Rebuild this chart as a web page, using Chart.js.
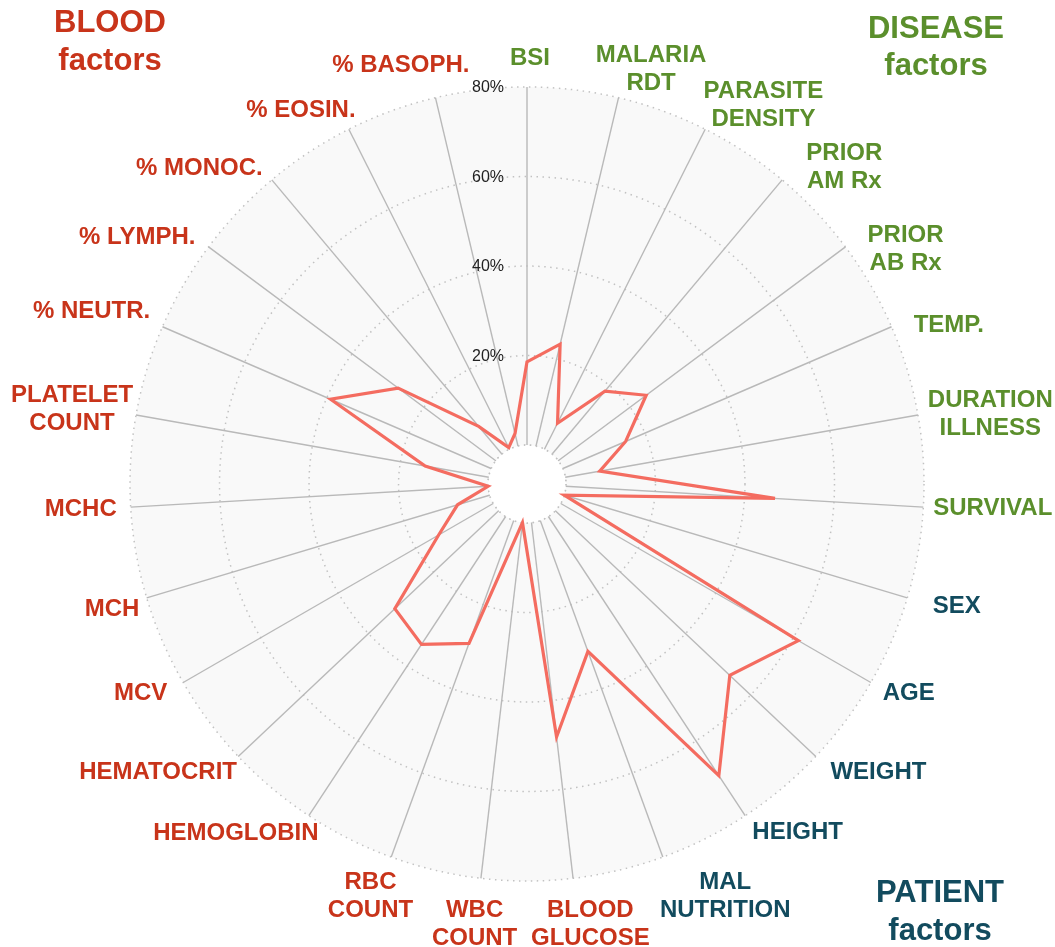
<!DOCTYPE html>
<html><head><meta charset="utf-8">
<script src="https://cdn.jsdelivr.net/npm/chart.js@4.4.1/dist/chart.umd.min.js"></script>
<style>html,body{margin:0;padding:0;background:#fff;}#wrap{position:relative;width:1055px;height:947px;}</style>
</head><body><div id="wrap"><canvas id="c" width="1055" height="947"></canvas></div>
<script>
// ---- data ----
const categories = [
  ['BSI'], ['MALARIA','RDT'], ['PARASITE','DENSITY'], ['PRIOR','AM Rx'], ['PRIOR','AB Rx'],
  ['TEMP.'], ['DURATION','ILLNESS'], ['SURVIVAL'],
  ['SEX'], ['AGE'], ['WEIGHT'], ['HEIGHT'], ['MAL','NUTRITION'],
  ['BLOOD','GLUCOSE'], ['WBC','COUNT'], ['RBC','COUNT'], ['HEMOGLOBIN'], ['HEMATOCRIT'],
  ['MCV'], ['MCH'], ['MCHC'], ['PLATELET','COUNT'], ['% NEUTR.'], ['% LYMPH.'],
  ['% MONOC.'], ['% EOSIN.'], ['% BASOPH.']
];
const groups = [
  'disease','disease','disease','disease','disease','disease','disease','disease',
  'patient','patient','patient','patient','patient',
  'blood','blood','blood','blood','blood','blood','blood','blood','blood','blood','blood','blood','blood','blood'
];
const values = [
  18.6, 23.4, 6.5, 18.4, 24.5, 15.3, 7.8, 46.8,
  0, 61.3, 53.6, 69.3, 31.1,
  48.2, 0, 29.2, 34.2, 31.9, 14.1, 7.5, 0, 14.4, 39.1, 27.2, 8.1, 0.4, 2.9
];
const gridValues = [0, 20, 40, 60, 80];
const tickValues = [20, 40, 60, 80];
const tickLabels = ['20%', '40%', '60%', '80%'];
const groupTitles = { blood: ['BLOOD','factors'], disease: ['DISEASE','factors'], patient: ['PATIENT','factors'] };

// ---- styles ----
const groupColors = { disease: '#5b8f2c', patient: '#124b5e', blood: '#c8341a' };
// small per-label offsets (px) from the automatic outside-the-ring placement
const labelNudges = [
  [3,-3],[17,11],[26,12],[30,18],[20,26],[14,9],[-1,6],[-2,0],
  [15,1],[5,-2],[19,-2],[21,-5],[36,2],
  [9,6],[0,6],[-2,2],[-21,-4],[-14,-2],[-9,-2],[3,4],[-2,1],[8,1],[-6,-5],
  [-15,6],[-24,8],[-18,4],[-16,-7]
];
const FONT = '"Liberation Sans", Arial, Helvetica, sans-serif';

const decor = {
  id: 'decor',
  beforeDatasetsDraw(chart) {
    const s = chart.scales.r, ctx = chart.ctx;
    const r0 = s.getDistanceFromCenterForValue(0);
    ctx.save();
    ctx.beginPath();
    ctx.arc(s.xCenter, s.yCenter, r0, 0, Math.PI * 2);
    ctx.fillStyle = '#ffffff';
    ctx.fill();
    ctx.setLineDash([1.5, 4.5]);
    ctx.strokeStyle = '#c2c2c2';
    ctx.lineWidth = 1.5;
    ctx.stroke();
    ctx.setLineDash([]);
    ctx.font = '16px ' + FONT;
    ctx.fillStyle = '#222222';
    ctx.textAlign = 'right';
    ctx.textBaseline = 'middle';
    tickValues.forEach((v, k) => {
      ctx.fillText(tickLabels[k], s.xCenter - 23, s.yCenter - s.getDistanceFromCenterForValue(v) + 1);
    });
    ctx.restore();
  },
  afterDraw(chart) {
    const s = chart.scales.r, ctx = chart.ctx;
    ctx.save();
    ctx.textAlign = 'center';
    ctx.textBaseline = 'middle';
    ctx.font = 'bold 24px ' + FONT;
    const lh = 28;
    const R = s.drawingArea + 12;
    categories.forEach((lines, i) => {
      const th = s.getIndexAngle(i);
      const p = s.getPointPosition(i, R);
      const w = Math.max(...lines.map(t => ctx.measureText(t).width));
      const h = lines.length * lh;
      const cx = p.x + Math.sin(th) * w / 2 + labelNudges[i][0];
      const cy = p.y - Math.cos(th) * h / 2 + labelNudges[i][1];
      ctx.fillStyle = groupColors[groups[i]];
      lines.forEach((t, j) => ctx.fillText(t, cx, cy - h / 2 + lh * (j + 0.5)));
    });
    // group titles
    ctx.font = 'bold 31px ' + FONT;
    ctx.textBaseline = 'alphabetic';
    const tpos = { blood: [110, 32, 70], disease: [936, 38, 75], patient: [940, 902, 940] };
    Object.keys(groupTitles).forEach(g => {
      ctx.fillStyle = groupColors[g];
      const [x, y1, y2] = tpos[g];
      ctx.fillText(groupTitles[g][0], x, y1);
      ctx.fillText(groupTitles[g][1], x, y2);
    });
    ctx.restore();
  }
};

new Chart(document.getElementById('c'), {
  type: 'radar',
  data: {
    labels: categories,
    datasets: [{
      data: values,
      borderColor: '#f46c60',
      borderWidth: 3.2,
      fill: false,
      pointRadius: 0,
      pointHoverRadius: 0,
      tension: 0
    }]
  },
  options: {
    responsive: false,
    animation: false,
    layout: { padding: { left: 130, right: 131, top: 87, bottom: 66 } },
    plugins: { legend: { display: false }, tooltip: { enabled: false } },
    scales: {
      r: {
        min: -8.7,
        max: 80,
        startAngle: 0,
        backgroundColor: '#f9f9f9',
        grid: { circular: true, color: '#c2c2c2', lineWidth: 1.5 },
        border: { dash: [1.5, 4.5] },
        angleLines: { color: '#b9b9b9', lineWidth: 1.4 },
        pointLabels: { display: false },
        ticks: { display: false },
        afterBuildTicks: (sc) => { sc.ticks = gridValues.map(v => ({ value: v })); }
      }
    }
  },
  plugins: [decor]
});
</script>
</body></html>
